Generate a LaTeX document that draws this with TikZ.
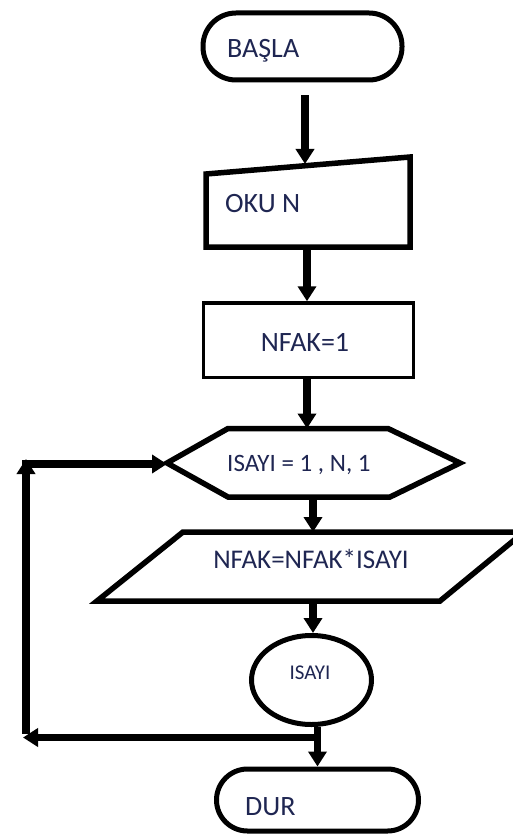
\documentclass[tikz,border=0pt]{standalone}
\usepackage{fontspec}
\setmainfont{Carlito}
\usetikzlibrary{arrows.meta,shapes.geometric}
\definecolor{ink}{RGB}{31,38,82}
\begin{document}
\begin{tikzpicture}[x=1pt,y=-1pt,
  outline/.style={draw=black, line width=5pt, line join=miter},
  term/.style={outline, rectangle, rounded corners=#1, inner sep=0pt},
  flow/.style={line width=7.5pt, -{Triangle[width=18pt,length=15pt]}},
  bar/.style={line width=7.5pt},
  lbl/.style={text=ink, inner sep=0pt, font=\fontsize{#1}{#1}\selectfont},
]
\useasboundingbox (0,0) rectangle (512,834);

% start terminal
\node[term=33pt, minimum width=199pt, minimum height=67pt] (start) at (302.5,46.5) {};
\node[lbl=28, anchor=base west] (startT) at (227,58) {BAŞLA};

% manual input: read N
\draw[outline, line width=5.5pt] (206,174) -- (410,157) -- (410,247) -- (206,247) -- cycle;
\coordinate (readN) at (305,164);
\coordinate (readS) at (307,247);
\node[lbl=28, anchor=base west] (readT) at (225,213) {OKU N};

% process: initialise
\node[outline, line width=3.5pt, rectangle, inner sep=0pt,
      minimum width=210pt, minimum height=74.5pt] (init) at (308.5,340.25) {};
\node[lbl=28, anchor=base] (initT) at (305,351) {NFAK=1};

% loop header
\draw[outline, line width=5.5pt] (167,463) -- (228,428.5) -- (388,428.5) -- (460,463)
      -- (390,497) -- (228,497) -- cycle;
\coordinate (loopIn) at (167,463);
\coordinate (hexN) at (307,428.5);
\coordinate (hexS) at (313,497);
\node[lbl=25, anchor=base west] (hexT) at (227,471.5) {ISAYI = 1 , N, 1};

% process: multiply
\draw[outline, line width=5.5pt] (183,532) -- (524,532) -- (440,601) -- (97,601) -- cycle;
\coordinate (paraN) at (313,532);
\coordinate (paraS) at (313,601);
\node[lbl=27, anchor=base] (paraT) at (311,568) {NFAK=NFAK*ISAYI};

% loop end
\node[outline, ellipse, inner sep=0pt, minimum width=120pt, minimum height=89pt] (isayi) at (311.5,680) {};
\node[lbl=21, anchor=base] (isayiT) at (310,679) {ISAYI};

% stop terminal
\node[term=31pt, minimum width=202pt, minimum height=62pt] (stop) at (317.5,800) {};
\node[lbl=28, anchor=base west] (stopT) at (245,815) {DUR};

% connectors
\draw[flow, shorten <=13pt] (start.south -| readN) -- (readN);
\draw[flow] (readS) -- (readS |- init.north);
\draw[flow] (init.south -| hexN) -- (hexN);
\draw[flow] (hexS) -- (paraN);
\draw[flow] (paraS) -- (paraS |- isayi.north);

\coordinate (j) at (317.5,737.5);
\coordinate (backL) at (23,737.5);
\coordinate (upB) at (26,733.5);
\coordinate (upT) at (26,459);
\coordinate (topL) at (22,464);
\coordinate (topR) at (167,464);
\draw[flow, line join=miter] (isayi.south -| j) -- (j) -- (backL);
\draw[flow] (j) -- (stop.north -| j);
\draw[flow] (upB) -- (upT);
\draw[flow] (topL) -- (topR);
\end{tikzpicture}
\end{document}
